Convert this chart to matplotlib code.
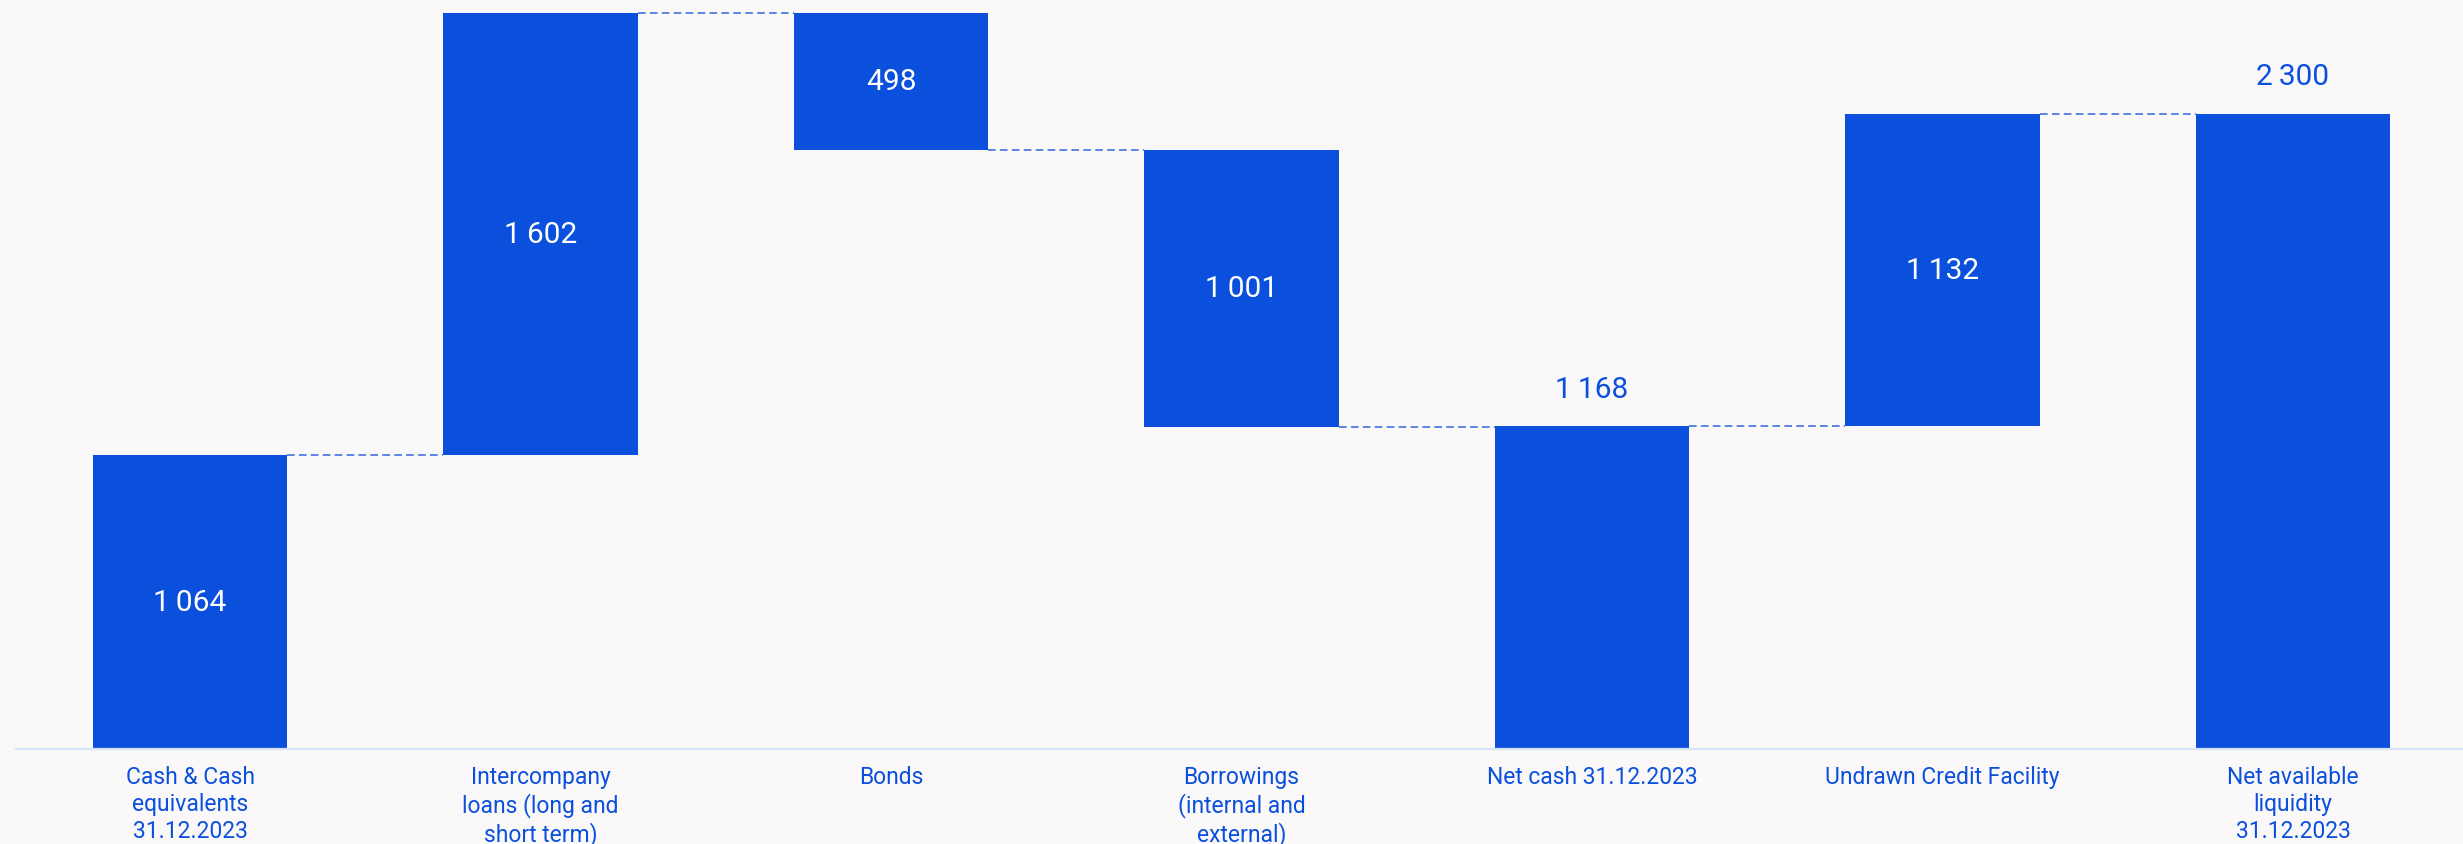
import matplotlib
matplotlib.use("Agg")
import matplotlib.pyplot as plt

categories = ["Cash & Cash\nequivalents\n31.12.2023",
              "Intercompany\nloans (long and\nshort term)",
              "Bonds",
              "Borrowings\n(internal and\nexternal)",
              "Net cash 31.12.2023",
              "Undrawn Credit Facility",
              "Net available\nliquidity\n31.12.2023"]
values = [1064, 1602, 498, 1001, 1168, 1132, 2300]
kinds = ["total", "up", "down", "down", "total", "up", "total"]
labels = ["1\u2009064", "1\u2009602", "498", "1\u2009001", "1\u2009168", "1\u2009132", "2\u2009300"]

BAR = "#0A50DC"
BG = "#FAF8F9"
LINE = "#D6E2F6"
DASH = "#2F67DE"

W, H = 2463, 845
fig = plt.figure(figsize=(W / 100, H / 100), dpi=100, facecolor=BG)
ax = fig.add_axes([0, 0, 1, 1], facecolor=BG)

px0, pstep = 190.0, 350.5
base_px, scale = 750.0, 0.2762
ax.set_xlim(-px0 / pstep, (W - px0) / pstep)
ax.set_ylim(-(H - base_px) / scale, base_px / scale)
ax.axis("off")

width = 0.556
bottoms, tops = [], []
running = 0
for v, k in zip(values, kinds):
    if k == "total":
        b, t = 0, v
        running = v
    elif k == "up":
        b, t = running, running + v
        running = t
    else:
        b, t = running - v, running
        running = b
    bottoms.append(b)
    tops.append(t)

xs = list(range(len(values)))
ax.bar(xs, [t - b for b, t in zip(bottoms, tops)], bottom=bottoms, width=width,
       color=BAR, linewidth=0, zorder=3)

# connectors
levels = []
for i, k in enumerate(kinds):
    levels.append(bottoms[i] if k == "down" else tops[i])
for i in range(len(values) - 1):
    y = levels[i]
    ax.plot([i + width / 2, i + 1 - width / 2], [y, y], color=DASH, lw=1.1,
            dashes=(5, 2.8), zorder=2)

# baseline
ax.plot([(16 - px0) / pstep, (W - px0) / pstep], [0, 0], color=LINE, lw=1.6, zorder=4)

fam = ["Roboto", "DejaVu Sans"]
for i, (k, lab) in enumerate(zip(kinds, labels)):
    if k == "total" and i > 0:
        ax.annotate(lab, (i, tops[i]), xytext=(0, 27), textcoords="offset points",
                    ha="center", va="center", color=BAR, fontsize=21.5, family=fam)
    else:
        ax.text(i, (bottoms[i] + tops[i]) / 2, lab, ha="center", va="center",
                color="white", fontsize=21.5, family=fam, zorder=5)

for i, c in enumerate(categories):
    ax.text(i, -16 / scale, c, ha="center", va="top", color=BAR, fontsize=16.5,
            family=fam, linespacing=1.22)

fig.savefig("out.png", dpi=100, facecolor=BG)
